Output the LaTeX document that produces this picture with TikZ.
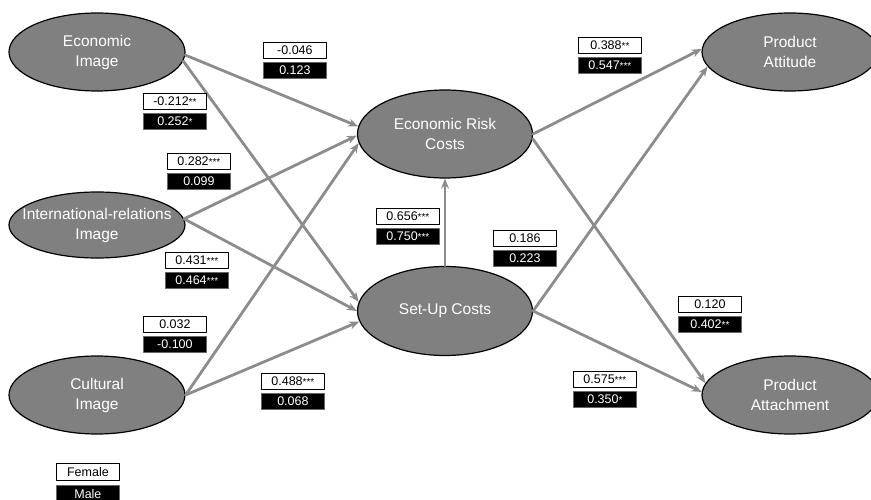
\documentclass[tikz,border=0pt]{standalone}
\usepackage{fontspec}
\setmainfont{Liberation Sans}
\usetikzlibrary{arrows.meta,shapes.geometric}
\definecolor{latentgray}{RGB}{128,128,128}
\definecolor{pathgray}{RGB}{140,140,140}
\newcommand{\stars}[1]{\raisebox{0.5pt}{\fontsize{10}{10}\selectfont #1}}

\tikzset{
  latent/.style={ellipse,draw=black,line width=1.2pt,fill=latentgray,text=white,inner sep=0pt,
    align=center,font=\fontsize{15.5}{20}\selectfont},
  pathline/.style={->,>={Stealth[length=10pt,width=8pt]},line width=2.8pt,draw=pathgray},
  femalebox/.style={draw=black,line width=0.8pt,fill=white,minimum width=63pt,minimum height=16pt,
    inner sep=0pt,anchor=north west,font=\fontsize{12.5}{12.5}\selectfont},
  malebox/.style={femalebox,draw=black!60,fill=black,text=white}
}

\begin{document}
\begin{tikzpicture}[x=1pt,y=-1pt,line cap=round,line join=round]
    \path[use as bounding box] (0,0) rectangle (871,500);

    \node[latent,minimum width=176pt,minimum height=78pt] (ei) at (97,52) {Economic\\Image};
    \node[latent,minimum width=176pt,minimum height=66pt,inner xsep=-14pt] (iri) at (97,225) {International-relations\\Image};
    \node[latent,minimum width=176pt,minimum height=78pt] (ci) at (97,395) {Cultural\\Image};
    \node[latent,minimum width=175pt,minimum height=88pt] (erc) at (445,134) {Economic Risk\\Costs};
    \node[latent,minimum width=175pt,minimum height=89pt] (suc) at (445,311) {Set-Up Costs};
    \node[latent,minimum width=176pt,minimum height=78pt] (pat) at (790,52) {Product\\Attitude};
    \node[latent,minimum width=176pt,minimum height=78pt] (pam) at (790,395) {Product\\Attachment};

    \draw[pathline] (ei.-2) -- (erc.175);
    \draw[pathline] (ei.-6) -- (suc.174);
    \draw[pathline] (iri.4) -- (erc.181);
    \draw[pathline] (iri.4) -- (suc.180);
    \draw[pathline] (ci.east) -- (erc.186);
    \draw[pathline] (ci.east) -- (suc.187);
    \draw[pathline] (suc.north) -- (erc.south);
    \draw[pathline] (erc.east) -- (pat.178);
    \draw[pathline] (erc.-3) -- (pam.172);
    \draw[pathline] (suc.east) -- (pat.190);
    \draw[pathline] (suc.east) -- (pam.178);

    \node[femalebox] (ei-erc-f) at (263,42) {-0.046};
    \node[malebox] (ei-erc-m) at (263,62) {0.123};
    \node[femalebox] (ei-suc-f) at (143,93) {-0.212\stars{**}};
    \node[malebox] (ei-suc-m) at (143,113) {0.252\stars{*}};
    \node[femalebox] (iri-erc-f) at (167,153) {0.282\stars{***}};
    \node[malebox] (iri-erc-m) at (167,173) {0.099};
    \node[femalebox] (iri-suc-f) at (165,252) {0.431\stars{***}};
    \node[malebox] (iri-suc-m) at (165,272) {0.464\stars{***}};
    \node[femalebox] (ci-erc-f) at (143,316) {0.032};
    \node[malebox] (ci-erc-m) at (143,336) {-0.100};
    \node[femalebox] (ci-suc-f) at (261,373) {0.488\stars{***}};
    \node[malebox] (ci-suc-m) at (261,393) {0.068};
    \node[femalebox] (suc-erc-f) at (376,208) {0.656\stars{***}};
    \node[malebox] (suc-erc-m) at (376,228) {0.750\stars{***}};
    \node[femalebox] (erc-pat-f) at (578,37) {0.388\stars{**}};
    \node[malebox] (erc-pat-m) at (578,57) {0.547\stars{***}};
    \node[femalebox] (suc-pat-f) at (493,230) {0.186};
    \node[malebox] (suc-pat-m) at (493,250) {0.223};
    \node[femalebox] (erc-pam-f) at (678,296) {0.120};
    \node[malebox] (erc-pam-m) at (678,316) {0.402\stars{**}};
    \node[femalebox] (suc-pam-f) at (573,371) {0.575\stars{***}};
    \node[malebox] (suc-pam-m) at (573,391) {0.350\stars{*}};

    \node[femalebox,minimum height=17pt] (key-f) at (56,463) {Female};
    \node[malebox,minimum height=17pt] (key-m) at (56,485) {Male};
\end{tikzpicture}
\end{document}
